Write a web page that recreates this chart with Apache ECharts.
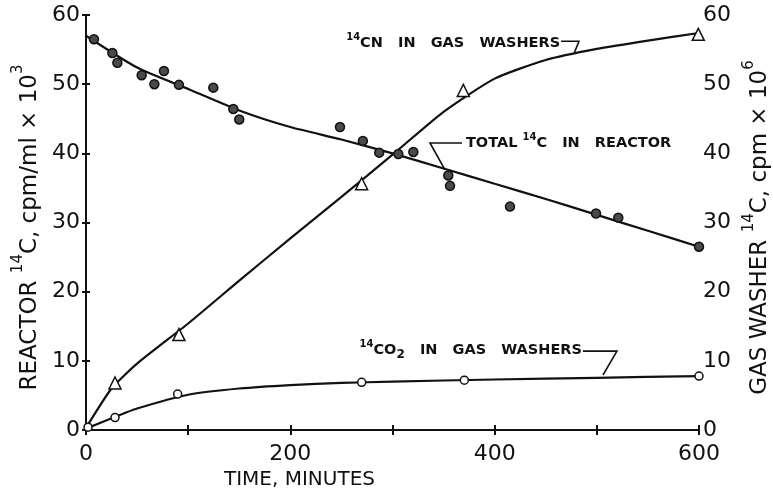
<!DOCTYPE html>
<html><head><meta charset="utf-8">
<script src="https://cdn.jsdelivr.net/npm/echarts@6/dist/echarts.min.js"></script>
<style>html,body{margin:0;padding:0;background:#fff}#c{width:773px;height:488px}</style>
</head><body><div id="c"></div>
<script>
// ---- data ----
const xLabelTicks = [0, 200, 400, 600];
const reactorTime  = [7.8, 25.8, 30.7, 54.5, 66.9, 76.3, 91, 124.6, 144.2, 150, 248.6, 271, 287, 305.7, 320.4, 354.6, 356.3, 415, 499.2, 521, 600];
const reactorValue = [56.5, 54.5, 53.1, 51.3, 50.0, 51.9, 49.9, 49.5, 46.4, 44.9, 43.8, 41.8, 40.1, 39.9, 40.2, 36.8, 35.3, 32.3, 31.3, 30.7, 26.5];
const reactorFitTime  = [0, 50, 100, 150, 200, 250, 300, 350, 400, 450, 500, 550, 600];
const reactorFitValue = [57.0, 52.4, 49.3, 46.2, 43.8, 42.0, 40.0, 37.8, 35.6, 33.4, 31.1, 28.8, 26.5];
const cnTime  = [28.4, 91, 269.8, 369.3, 599.3];
const cnValue = [6.8, 13.8, 35.6, 49.1, 57.2];
const cnFitTime  = [0, 25, 50, 100, 150, 200, 250, 300, 350, 400, 450, 500, 550, 600];
const cnFitValue = [0.3, 6.0, 9.6, 15.4, 21.6, 27.7, 33.7, 39.8, 46.0, 50.8, 53.5, 55.1, 56.3, 57.4];
const co2Time  = [2, 28.4, 89.7, 269.8, 370.3, 600];
const co2Value = [0.4, 1.8, 5.2, 6.9, 7.2, 7.8];
const co2FitTime  = [0, 25, 50, 100, 150, 200, 250, 300, 400, 500, 600];
const co2FitValue = [0.2, 1.7, 3.1, 5.1, 6.0, 6.5, 6.8, 7.0, 7.3, 7.55, 7.8];

const labelCN = '{s|14}{b|CN   IN   GAS   WASHERS}';
const labelReactor = '{b|TOTAL }{s|14}{b|C   IN   REACTOR}';
const labelCO2 = '{s|14}{b|CO}{u|2}{b|   IN   GAS   WASHERS}';
const leftTitle = '{a|REACTOR }{s|14}{a|C, cpm/ml × 10}{s|3}';
const rightTitle = '{a|GAS WASHER }{s|14}{a|C, cpm × 10}{s|6}';
const xTitle = 'TIME, MINUTES';
// annotation anchors in data units
const cnLeader = [[465, 56.2], [482.5, 56.2], [477.6, 54.4]];
const reactorLeader = [[368, 41.5], [336.7, 41.5], [351.4, 37.6]];
const co2Leader = [[486.4, 11.4], [519.7, 11.4], [506, 7.95]];

const zip = (a, b) => a.map((v, i) => [v, b[i]]);
const INK = '#111';
const FONT = 'DejaVu Sans';

const titleRich = {
  a: {fontFamily: FONT, fontSize: 23, color: INK, lineHeight: 30, verticalAlign: 'bottom'},
  s: {fontFamily: FONT, fontSize: 15, color: INK, lineHeight: 30, verticalAlign: 'top'}
};
const chart = echarts.init(document.getElementById('c'), null, {renderer: 'canvas'});
const axisCommon = {
  min: 0, axisLine: {show: true, lineStyle: {color: INK, width: 2}},
  splitLine: {show: false},
  axisTick: {show: true, inside: true, length: 5, lineStyle: {color: INK, width: 2}},
};
chart.setOption({
  animation: false,
  backgroundColor: '#fff',
  grid: {left: 86, top: 15, right: 74, bottom: 58, containLabel: false, outerBoundsMode: 'none'},
  xAxis: [
    Object.assign({}, axisCommon, {
      type: 'value', max: 600, interval: 100, position: 'bottom',
      axisLabel: {color: INK, fontFamily: FONT, fontSize: 22, margin: 13,
        formatter: v => xLabelTicks.includes(v) ? String(v) : ''},
      name: xTitle, nameLocation: 'middle', nameGap: 31,
      nameTextStyle: {color: INK, fontFamily: FONT, fontSize: 20, padding: [0, 186, 0, 0]}
    }),
    Object.assign({}, axisCommon, {
      type: 'value', max: 600, interval: 100, position: 'top', axisLabel: {show: false}
    })
  ],
  yAxis: [
    Object.assign({}, axisCommon, {
      type: 'value', max: 60, interval: 10, position: 'left',
      axisTick: {show: true, inside: true, length: 4, lineStyle: {color: INK, width: 2}},
      axisLabel: {color: INK, fontFamily: FONT, fontSize: 22, margin: 6},
      name: leftTitle, nameLocation: 'middle', nameGap: 40, nameRotate: 90,
      nameTextStyle: {rich: titleRich, padding: [0, 10, 0, 0]}
    }),
    Object.assign({}, axisCommon, {
      type: 'value', max: 60, interval: 10, position: 'right',
      axisTick: {show: true, inside: true, length: 4, lineStyle: {color: INK, width: 2}},
      axisLabel: {color: INK, fontFamily: FONT, fontSize: 22, margin: 4},
      name: rightTitle, nameLocation: 'middle', nameGap: 36, nameRotate: 90,
      nameTextStyle: {rich: titleRich, padding: [0, 10, 0, 0]}
    })
  ],
  series: [
    {type: 'line', name: 'reactorFit', yAxisIndex: 0, data: zip(reactorFitTime, reactorFitValue),
      smooth: 0.2, showSymbol: false, lineStyle: {color: INK, width: 2.2}, z: 2},
    {type: 'line', name: 'cnFit', yAxisIndex: 1, data: zip(cnFitTime, cnFitValue),
      smooth: 0.2, showSymbol: false, lineStyle: {color: INK, width: 2.2}, z: 2},
    {type: 'line', name: 'co2Fit', yAxisIndex: 1, data: zip(co2FitTime, co2FitValue),
      smooth: 0.2, showSymbol: false, lineStyle: {color: INK, width: 2.2}, z: 2},
    {type: 'scatter', name: 'reactor', yAxisIndex: 0, data: zip(reactorTime, reactorValue),
      symbol: 'circle', symbolSize: 9, clip: false,
      itemStyle: {color: '#4a4a4a', borderColor: INK, borderWidth: 1.5, opacity: 1}, z: 3},
    {type: 'scatter', name: 'cn', yAxisIndex: 1, data: zip(cnTime, cnValue),
      symbol: 'triangle', symbolSize: 12, clip: false,
      itemStyle: {color: '#fff', borderColor: INK, borderWidth: 1.5, opacity: 1}, z: 3},
    {type: 'scatter', name: 'co2', yAxisIndex: 1, data: zip(co2Time, co2Value),
      symbol: 'circle', symbolSize: 8, clip: false,
      itemStyle: {color: '#fff', borderColor: INK, borderWidth: 1.5, opacity: 1}, z: 3}
  ]
});

function px(p) { return chart.convertToPixel({xAxisIndex: 0, yAxisIndex: 0}, p); }
const annRich = {
  b: {fontFamily: FONT, fontWeight: 'bold', fontSize: 14.5, fill: INK, lineHeight: 22, verticalAlign: 'middle'},
  s: {fontFamily: FONT, fontWeight: 'bold', fontSize: 10, fill: INK, lineHeight: 22, verticalAlign: 'top'},
  u: {fontFamily: FONT, fontWeight: 'bold', fontSize: 12, fill: INK, lineHeight: 22, verticalAlign: 'bottom'}
};
function leader(pts) {
  return {type: 'polyline', shape: {points: pts.map(px)}, style: {stroke: INK, lineWidth: 1.6, fill: null}, z: 10};
}
function label(text, anchor, align, dx, dy) {
  const p = px(anchor);
  return {type: 'text', x: p[0] + dx, y: p[1] + dy, z: 10,
    style: {text: text, align: align, verticalAlign: 'middle', rich: annRich}};
}
chart.setOption({
  graphic: [
    leader(cnLeader), label(labelCN, cnLeader[0], 'right', -1, 2),
    leader(reactorLeader), label(labelReactor, reactorLeader[0], 'left', 4, 0),
    leader(co2Leader), label(labelCO2, co2Leader[0], 'right', -1, -1)
  ]
});
</script></body></html>
